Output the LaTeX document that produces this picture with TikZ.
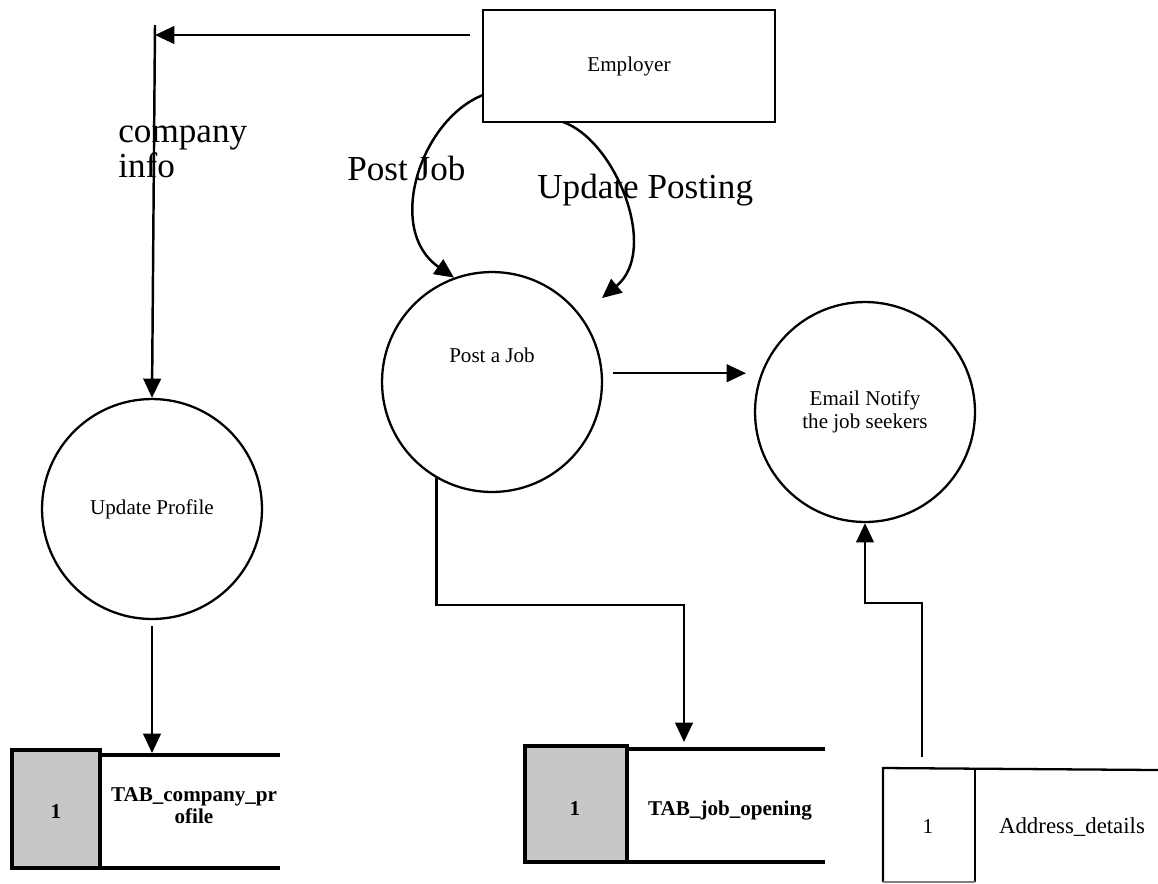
\documentclass[tikz,border=0pt]{standalone}
\usepackage{fontspec}
\setmainfont{Liberation Serif}
\usetikzlibrary{arrows.meta}

\begin{document}
\begin{tikzpicture}[x=0.02cm, y=-0.02cm,
    flow/.style={-{Triangle[length=11pt,width=10pt]}, line width=1.4pt},
    process/.style={circle, draw, line width=1.3pt, minimum size=4.4cm, inner sep=0pt,
        font=\fontsize{12}{13}\selectfont, align=center},
    entity/.style={rectangle, draw, line width=1.2pt, minimum width=5.84cm,
        minimum height=2.24cm, font=\fontsize{12}{14}\selectfont},
    flowlabel/.style={font=\fontsize{20}{18}\selectfont, inner sep=0pt},
    storetext/.style={font=\bfseries\fontsize{12}{12.5}\selectfont, align=center, inner sep=0pt},
    storeline/.style={line width=2.5pt},
    storefill/.style={fill=black!22}]

    \useasboundingbox (0,0) rectangle (1158,883);

    % Employer and the three processes
    \node[entity] (employer) at (629,66) {Employer};
    \node[process, label={[font=\fontsize{12}{14}\selectfont, yshift=15pt]center:Post a Job}] (post) at (492,382) {};
    \node[process] (email) at (865,412) {Email Notify\\the job seekers};
    \node[process] (profile) at (152,509) {Update Profile};

    % data stores
    \draw[storeline, storefill] (12,750) rectangle (100,868); % TAB_company_profile
    \draw[storeline] (100,755) -- (280,755);
    \draw[storeline] (100,868) -- (280,868);
    \node[storetext, anchor=base] (companynum) at (56,818) {1};
    \node[storetext] (companystore) at (194,806) {TAB\_company\_pr\\ofile};
    \coordinate (companyin) at (152,753);

    \draw[storeline, storefill] (525,746) rectangle (627,862); % TAB_job_opening
    \draw[storeline] (627,749) -- (825,749);
    \draw[storeline] (627,862) -- (825,862);
    \node[storetext, anchor=base] (jobnum) at (575,815) {1};
    \node[storetext, anchor=base] (jobstore) at (730,815) {TAB\_job\_opening};
    \coordinate (jobin) at (684,742);

    \draw[line width=1.3pt] (883,882) -- (883,768) -- (1158,770); % Address_details
    \draw[line width=1.1pt] (975,769) -- (975,882);
    \draw[line width=0.6pt, black!50] (883,882) -- (975,882);
    \node[font=\fontsize{12}{14}\selectfont, anchor=base] (addrnum) at (928,833) {1};
    \node[font=\fontsize{13}{14}\selectfont, anchor=base] (addrstore) at (1072,833) {Address\_details};
    \coordinate (addrout) at (922,757);

    % company info to Update Profile
    \coordinate (infostart) at (470,35);
    \coordinate (infotop) at (155,25);
    \draw[flow] (infostart) -- (infostart -| infotop);
    \draw[flow] (infotop) -- (profile.north);
    \node[flowlabel, anchor=base west, align=left] (infolabel) at (118,177) {company\\info};

    % Post Job and Update Posting
    \coordinate (postout) at (483,95);
    \coordinate (updateout) at (563,122);
    \coordinate (updatein) at (602,298);
    \draw[flow] (postout) .. controls (420,120) and (385,230) .. (post.110);
    \draw[flow] (updateout) .. controls (615,140) and (660,250) .. (updatein);
    \node[flowlabel, anchor=base west] (postlabel) at (347,180) {Post Job};
    \node[flowlabel, anchor=base west] (updatelabel) at (537,198) {Update Posting};

    % Post a Job to Email Notify
    \draw[flow, shorten <=5.5pt, shorten >=4.5pt] ([yshift=5pt]post.east) -- ([yshift=5pt]post.east -| email.west);

    % Post a Job to TAB_job_opening
    \coordinate (jobbend) at (684,605);
    \draw[flow] (post.240) |- (jobbend) -- (jobin);

    % Address_details to Email Notify
    \coordinate (addrbend) at (922,603);
    \draw[flow] (addrout) -- (addrbend) -| (email.south);

    % Update Profile to TAB_company_profile
    \draw[flow, shorten <=3.4pt] (profile.south) -- (companyin);

\end{tikzpicture}
\end{document}
